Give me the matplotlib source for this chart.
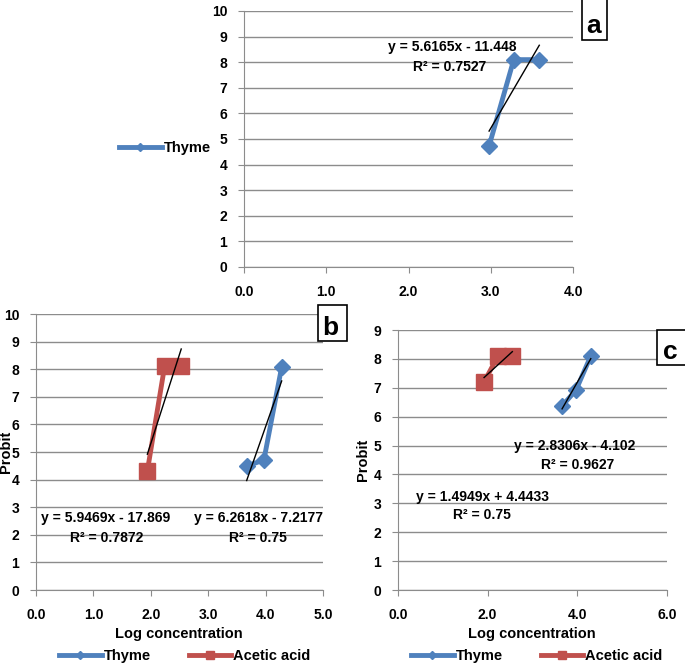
import numpy as np
import matplotlib
matplotlib.use('Agg')
import matplotlib.pyplot as plt
from matplotlib.lines import Line2D
from matplotlib.patches import Rectangle

# ── Data ──────────────────────────────────────────────────────────────────
A_THYME_X = [2.98, 3.28, 3.59]
A_THYME_Y = [4.73, 8.10, 8.10]

B_THYME_X = [3.67, 3.97, 4.28]
B_THYME_Y = [4.49, 4.71, 8.08]
B_ACETIC_X = [1.94, 2.24, 2.53]
B_ACETIC_Y = [4.31, 8.10, 8.10]

C_THYME_X = [3.66, 3.97, 4.30]
C_THYME_Y = [6.37, 6.92, 8.10]
C_ACETIC_X = [1.92, 2.23, 2.55]
C_ACETIC_Y = [7.20, 8.10, 8.10]

A_EQ = ["y = 5.6165x - 11.448", "R² = 0.7527"]
B_EQ_ACETIC = ["y = 5.9469x - 17.869", "R² = 0.7872"]
B_EQ_THYME = ["y = 6.2618x - 7.2177", "R² = 0.75"]
C_EQ_THYME = ["y = 2.8306x - 4.102", "R² = 0.9627"]
C_EQ_ACETIC = ["y = 1.4949x + 4.4433", "R² = 0.75"]

BLUE = '#4f81bd'
RED = '#c0504d'
GRID = '#8c8c8c'

W, H = 685, 664
plt.rcParams['font.family'] = ['Liberation Sans', 'DejaVu Sans']
plt.rcParams['font.weight'] = 'bold'
plt.rcParams['font.size'] = 10

fig = plt.figure(figsize=(W / 100, H / 100), dpi=100)


def px_axes(l, t, r, b):
    return fig.add_axes([l / W, 1 - b / H, (r - l) / W, (b - t) / H])


def px_text(x, y, s, **kw):
    fig.text(x / W, 1 - y / H, s, ha='center', va='center',
             fontweight='bold', **kw)


def style(ax, xmax, xstep, ymax):
    ax.set_xlim(0, xmax)
    ax.set_ylim(0, ymax)
    ticks = np.arange(0, xmax + 0.01, xstep)
    ax.set_xticks(ticks)
    ax.set_xticklabels([f"{v:.1f}" for v in ticks], fontweight='bold')
    ax.set_yticks(range(0, ymax + 1))
    ax.set_yticklabels([str(v) for v in range(0, ymax + 1)], fontweight='bold')
    ax.yaxis.grid(True, color=GRID, lw=1.0)
    ax.set_axisbelow(True)
    for s in ['top', 'right']:
        ax.spines[s].set_visible(False)
    for s in ['left', 'bottom']:
        ax.spines[s].set_color(GRID)
    ax.tick_params(axis='both', colors=GRID, length=4, labelcolor='black',
                   labelsize=10)
    ax.tick_params(axis='y', pad=8)
    ax.tick_params(axis='x', pad=9)


def series(ax, x, y, color, marker, ms):
    ax.plot(x, y, color=color, lw=3.5, marker=marker, ms=ms,
            markerfacecolor=color, markeredgecolor=color, clip_on=False)
    k, c = np.polyfit(x, y, 1)
    xs = np.array([min(x), max(x)])
    ax.plot(xs, k * xs + c, color='black', lw=1.0)


def label_box(l, t, r, b, letter, tx, ty):
    fig.patches.append(Rectangle((l / W, 1 - b / H), (r - l) / W, (b - t) / H,
                                 transform=fig.transFigure, fill=True,
                                 facecolor='white', edgecolor='black', lw=1.2))
    px_text(tx, ty, letter, fontsize=19)


thyme_h = Line2D([], [], color=BLUE, lw=3.5, marker='D', ms=4)
acetic_h = Line2D([], [], color=RED, lw=3.5, marker='s', ms=6)
leg_kw = dict(frameon=False, handlelength=2.9, handletextpad=0.15,
              borderpad=0, prop={'weight': 'bold', 'size': 10.5})

# ── Panel a ───────────────────────────────────────────────────────────────
ax_a = px_axes(244, 11, 573, 267)
style(ax_a, 4.0, 1.0, 10)
series(ax_a, A_THYME_X, A_THYME_Y, BLUE, 'D', 8)
px_text(452, 47, A_EQ[0])
px_text(450, 67, A_EQ[1])
fig.legend([thyme_h], ['Thyme'], loc='center left',
           bbox_to_anchor=(112 / W, 1 - 148 / H), **leg_kw)

# ── Panel b ───────────────────────────────────────────────────────────────
ax_b = px_axes(36, 314, 323, 590)
style(ax_b, 5.0, 1.0, 10)
series(ax_b, B_THYME_X, B_THYME_Y, BLUE, 'D', 8)
series(ax_b, B_ACETIC_X, B_ACETIC_Y, RED, 's', 11)
px_text(106, 518, B_EQ_ACETIC[0])
px_text(107, 538, B_EQ_ACETIC[1])
px_text(258, 518, B_EQ_THYME[0])
px_text(258, 538, B_EQ_THYME[1])
px_text(179, 634, 'Log concentration', fontsize=10.5)
px_text(6, 452, 'Probit', rotation=90, fontsize=10.5)
fig.legend([thyme_h, acetic_h], ['Thyme', 'Acetic acid'], loc='center left',
           bbox_to_anchor=(52 / W, 1 - 656 / H), ncol=2, columnspacing=2.6,
           **leg_kw)

# ── Panel c ───────────────────────────────────────────────────────────────
ax_c = px_axes(398, 330, 667, 590)
style(ax_c, 6.0, 2.0, 9)
series(ax_c, C_THYME_X, C_THYME_Y, BLUE, 'D', 8)
series(ax_c, C_ACETIC_X, C_ACETIC_Y, RED, 's', 11)
px_text(575, 446, C_EQ_THYME[0])
px_text(578, 465, C_EQ_THYME[1])
px_text(482, 497, C_EQ_ACETIC[0])
px_text(482, 515, C_EQ_ACETIC[1])
px_text(532, 634, 'Log concentration', fontsize=10.5)
px_text(363, 460, 'Probit', rotation=90, fontsize=10.5)
fig.legend([thyme_h, acetic_h], ['Thyme', 'Acetic acid'], loc='center left',
           bbox_to_anchor=(404 / W, 1 - 656 / H), ncol=2, columnspacing=2.6,
           **leg_kw)

# ── Letter boxes ──────────────────────────────────────────────────────────
label_box(582, -2, 607, 40, 'a', 594, 26)
label_box(318, 305, 347, 341, 'b', 330, 328)
label_box(657, 330, 686, 365, 'c', 670, 352)

fig.savefig('out.png', dpi=100)
